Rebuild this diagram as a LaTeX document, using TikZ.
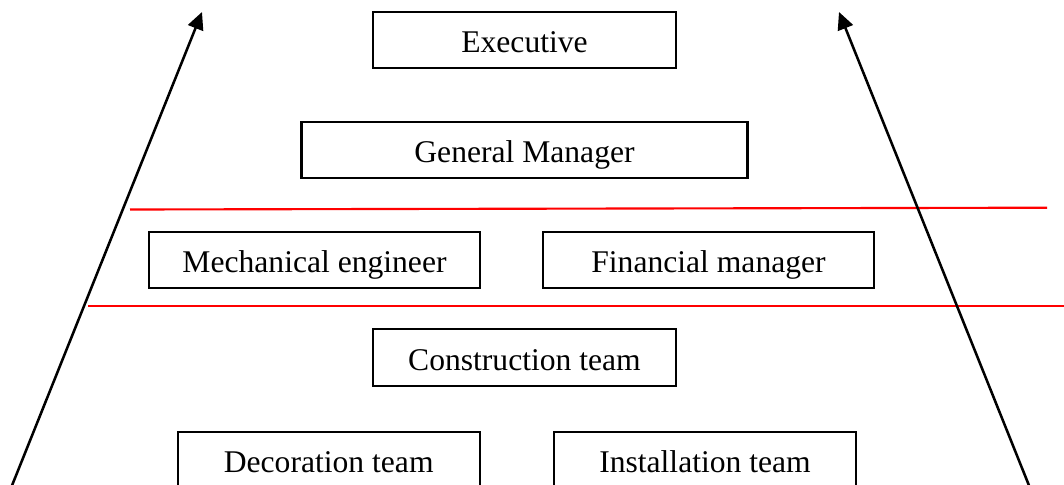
\documentclass[tikz,border=0pt]{standalone}
\usepackage{fontspec}
\setmainfont{Liberation Serif}
\usetikzlibrary{arrows.meta}
\begin{document}
\begin{tikzpicture}[x=0.75pt, y=-0.75pt,
  rolebox/.style={draw, line width=1.6pt, rectangle, minimum height=42.3pt,
    inner sep=0pt, text height=19pt, text depth=0pt,
    font=\fontsize{23.7pt}{28pt}\selectfont},
  divider/.style={red, line width=1.6pt},
  flowarrow/.style={line width=1.9pt, -{Triangle[length=13pt,width=12pt]}}]
  \useasboundingbox (0,0) rectangle (1064,485);
  \clip (0,0) rectangle (1064,485);

  % hierarchy boxes
  \node[rolebox, minimum width=227pt]   (exec) at (524.5,40)  {Executive};
  \node[rolebox, minimum width=334.5pt] (gm)   at (524.5,150) {General Manager};
  \node[rolebox, minimum width=248pt]   (mech) at (314.5,260) {Mechanical engineer};
  \node[rolebox, minimum width=248pt]   (fin)  at (708.5,260) {Financial manager};
  \node[rolebox, minimum width=227pt]   (cons) at (524.5,357.5) {Construction team};
  \node[rolebox, minimum width=226.5pt] (deco) at (328.7,460.3) {Decoration team};
  \node[rolebox, minimum width=226.5pt] (inst) at (705,460.3) {Installation team};

  % red separators around the middle level
  \coordinate (ua) at (130,209.5);
  \coordinate (ub) at (1047,207.7);
  \coordinate (la) at (88,305.7);
  \coordinate (lb) at (1066,305.7);
  \draw[divider] (ua) -- (ub);
  \draw[divider] (la) -- (lb);

  % side arrows
  \coordinate (lbase) at (11,488);
  \coordinate (ltip)  at (202,12);
  \coordinate (rbase) at (1030,488);
  \coordinate (rtip)  at (839,12);
  \draw[flowarrow] (lbase) -- (ltip);
  \draw[flowarrow] (rbase) -- (rtip);
\end{tikzpicture}
\end{document}
